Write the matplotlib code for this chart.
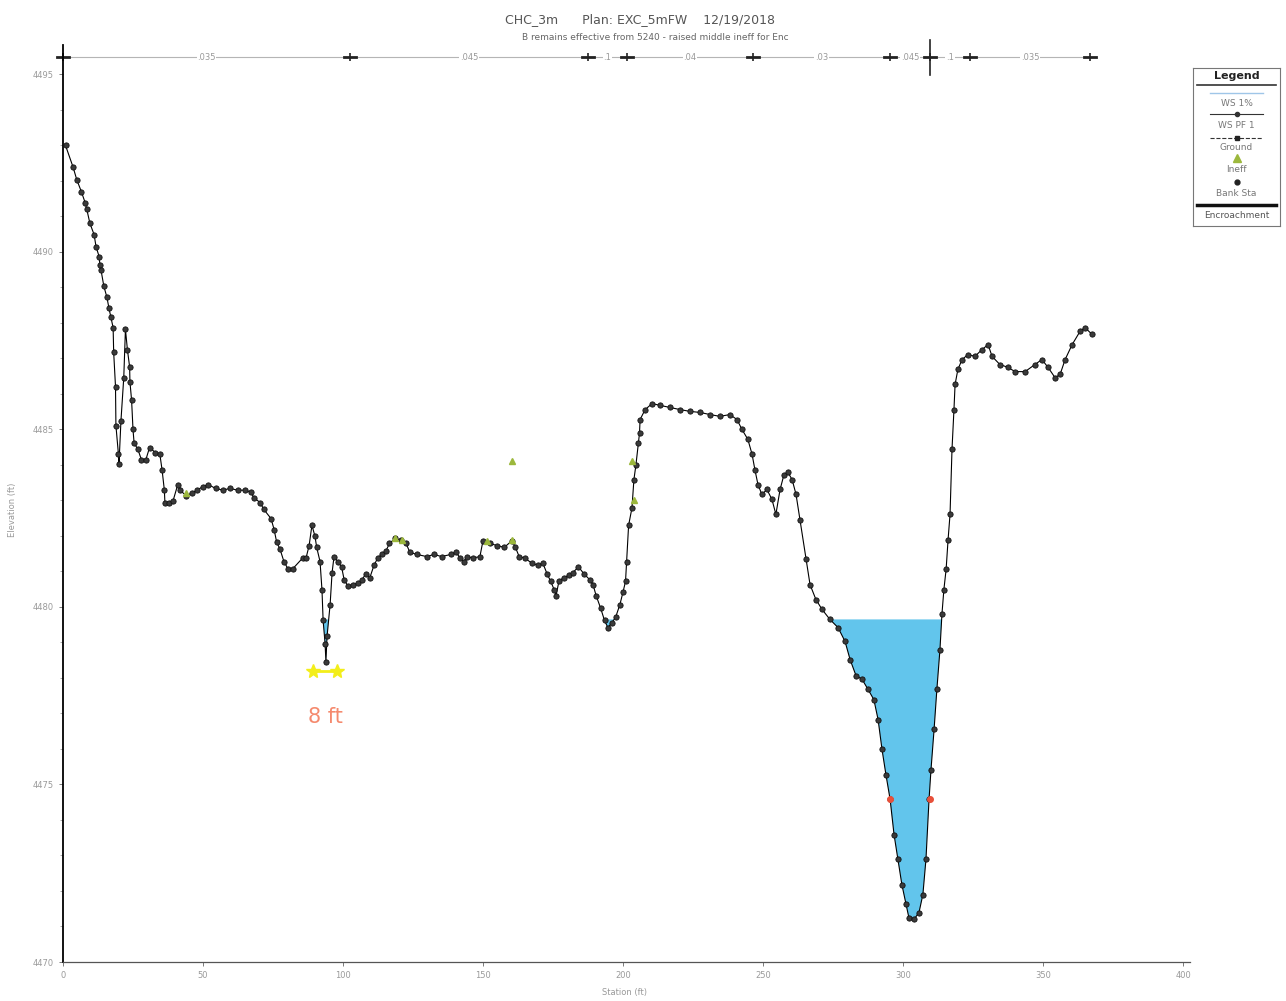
import numpy as np
import matplotlib
matplotlib.use("Agg")
import matplotlib.pyplot as plt

# ---------------- data ----------------
title_main = "CHC_3m      Plan: EXC_5mFW    12/19/2018"
title_sub = "B remains effective from 5240 - raised middle ineff for Enc"

ground_sta = [0.9, 3.6, 4.9, 6.6, 7.9, 8.5, 9.6, 11.1, 11.8, 12.9, 13.2, 13.6, 14.6, 15.7, 16.4, 17.1,
              17.9, 18.1, 18.75, 18.9, 19.8, 20.0, 20.7, 21.7, 22.3, 23.0, 23.8, 23.9, 24.5, 25.0, 25.4,
              26.7, 28.0, 29.6, 30.9, 33.0, 34.6, 35.4, 36.2, 36.4, 37.9, 39.3, 41.0, 41.8, 43.9, 45.9,
              47.9, 49.9, 51.8, 54.5, 57.1, 59.6, 62.4, 65.0, 67.0, 68.2, 70.4, 71.7, 74.3, 75.4, 76.3,
              77.5, 78.9, 80.3, 82.1, 85.6, 86.8, 87.9, 88.9, 90.0, 90.6, 91.8, 92.5, 92.9, 93.6, 93.9,
              94.3, 95.4, 96.1, 96.8, 98.1, 99.5, 100.4, 101.8, 103.4, 105.4, 106.8, 108.1, 109.6, 111.1,
              112.4, 113.75, 115.4, 116.6, 118.6, 120.6, 122.5, 123.9, 126.4, 129.9, 132.5, 135.2, 138.5,
              140.4, 141.8, 143.1, 144.3, 146.4, 148.9, 150.0, 152.4, 155.0, 157.6, 160.4, 161.6, 162.9,
              164.9, 167.5, 169.6, 171.4, 172.9, 174.2, 175.5, 176.1, 177.1, 178.8, 180.7, 182.1, 184.1,
              186.1, 188.1, 189.3, 190.4, 192.0, 193.4, 194.6, 196.1, 197.4, 198.9, 200.0, 200.9, 201.3,
              202.0, 203.2, 203.9, 204.6, 205.5, 205.9, 206.1, 207.9, 210.4, 213.2, 216.8, 220.4, 223.9,
              227.5, 231.1, 234.6, 238.2, 240.7, 242.5, 244.6, 246.1, 247.1, 248.2, 249.6, 251.4, 253.2,
              254.6, 256.1, 257.5, 258.9, 260.4, 261.8, 263.2, 265.4, 266.8, 268.9, 271.1, 273.9, 276.8,
              279.3, 281.1, 283.2, 285.4, 287.5, 289.6, 291.1, 292.5, 293.9, 295.4, 296.8, 298.2, 299.6,
              301.1, 302.1, 303.9, 305.7, 307.1, 308.2, 309.3, 310.0, 311.1, 312.1, 313.2, 313.9, 314.6,
              315.4, 316.1, 316.8, 317.5, 318.2, 318.6, 319.6, 321.1, 323.2, 325.7, 328.2, 330.4, 331.8,
              334.6, 337.5, 340.0, 343.6, 347.1, 349.6, 351.8, 354.3, 356.1, 357.9, 360.4, 363.2, 365.0,
              367.5]
ground_elev = [4493.00, 4492.39, 4492.04, 4491.69, 4491.39, 4491.20, 4490.81, 4490.49, 4490.15, 4489.87,
               4489.62, 4489.48, 4489.03, 4488.72, 4488.42, 4488.17, 4487.87, 4487.17, 4486.21, 4485.11,
               4484.30, 4484.04, 4485.25, 4486.46, 4487.82, 4487.25, 4486.76, 4486.35, 4485.82, 4485.00,
               4484.61, 4484.45, 4484.15, 4484.15, 4484.49, 4484.35, 4484.30, 4483.85, 4483.29, 4482.94,
               4482.94, 4482.99, 4483.45, 4483.29, 4483.14, 4483.20, 4483.29, 4483.39, 4483.45, 4483.34,
               4483.29, 4483.34, 4483.29, 4483.29, 4483.24, 4483.08, 4482.94, 4482.75, 4482.49, 4482.18,
               4481.83, 4481.63, 4481.28, 4481.08, 4481.08, 4481.38, 4481.38, 4481.73, 4482.30, 4481.99,
               4481.68, 4481.28, 4480.47, 4479.62, 4478.97, 4478.46, 4479.17, 4480.07, 4480.97, 4481.42,
               4481.28, 4481.13, 4480.77, 4480.58, 4480.63, 4480.67, 4480.77, 4480.93, 4480.83, 4481.18,
               4481.38, 4481.48, 4481.59, 4481.79, 4481.93, 4481.88, 4481.79, 4481.54, 4481.48, 4481.42,
               4481.48, 4481.42, 4481.48, 4481.54, 4481.38, 4481.28, 4481.42, 4481.38, 4481.42, 4481.87,
               4481.79, 4481.73, 4481.68, 4481.87, 4481.68, 4481.42, 4481.38, 4481.23, 4481.18, 4481.23,
               4480.93, 4480.72, 4480.47, 4480.32, 4480.72, 4480.83, 4480.89, 4480.97, 4481.13, 4480.93,
               4480.77, 4480.63, 4480.32, 4479.97, 4479.62, 4479.42, 4479.56, 4479.72, 4480.07, 4480.42,
               4480.72, 4481.28, 4482.30, 4482.79, 4483.59, 4483.99, 4484.61, 4484.90, 4485.28, 4485.56,
               4485.73, 4485.68, 4485.62, 4485.56, 4485.51, 4485.48, 4485.42, 4485.37, 4485.42, 4485.28,
               4485.00, 4484.72, 4484.30, 4483.87, 4483.45, 4483.17, 4483.31, 4483.03, 4482.61, 4483.31,
               4483.73, 4483.79, 4483.59, 4483.17, 4482.46, 4481.34, 4480.63, 4480.21, 4479.93, 4479.65,
               4479.42, 4479.03, 4478.52, 4478.07, 4477.96, 4477.68, 4477.39, 4476.83, 4475.99, 4475.28,
               4474.58, 4473.59, 4472.89, 4472.18, 4471.62, 4471.25, 4471.20, 4471.39, 4471.90, 4472.89,
               4474.58, 4475.42, 4476.55, 4477.68, 4478.80, 4479.79, 4480.49, 4481.06, 4481.90, 4482.61,
               4484.44, 4485.56, 4486.27, 4486.69, 4486.97, 4487.11, 4487.06, 4487.25, 4487.39, 4487.06,
               4486.83, 4486.75, 4486.63, 4486.63, 4486.83, 4486.97, 4486.75, 4486.46, 4486.55, 4486.97,
               4487.39, 4487.76, 4487.87, 4487.68]

ws_elev = 4479.65

bank_sta = [295.4, 309.6]
bank_elev = [4474.58, 4474.58]

ineff_sta = [44.0, 118.6, 121.0, 151.5, 160.4, 160.4, 203.3, 203.9]
ineff_elev = [4483.2, 4481.95, 4481.9, 4481.85, 4481.9, 4484.1, 4484.1, 4483.0]

enc_sta = [89.3, 97.9]
enc_elev = [4478.2, 4478.2]
note_text = "8 ft"
note_sta, note_elev = 93.6, 4476.9

n_bounds = [0.0, 102.5, 187.5, 201.4, 246.4, 295.4, 309.6, 323.9, 366.8]
n_values = [".035", ".045", ".1", ".04", ".03", ".045", ".1", ".035"]
n_bar_elev = 4495.48

x_ticks = [0, 50, 100, 150, 200, 250, 300, 350, 400]
y_ticks = [4470, 4475, 4480, 4485, 4490, 4495]

legend_labels = ["WS 1%", "WS PF 1", "Ground", "Ineff", "Bank Sta", "Encroachment"]

# ---------------- figure ----------------
W, H = 1286, 1001
fig = plt.figure(figsize=(W / 100, H / 100), dpi=100)
ax = fig.add_axes([63 / W, 1 - 962 / H, (1190 - 63) / W, (962 - 45) / H])
ax.set_xlim(0, 402.5)
ax.set_ylim(4470, 4495.83)

sta = np.array(ground_sta)
elev = np.array(ground_elev)

# water
ax.fill_between(sta, elev, ws_elev, where=elev < ws_elev, interpolate=True,
                color="#62c5ec", linewidth=0, zorder=1)

# ground
ax.plot(sta, elev, color="black", lw=0.8, zorder=3)
ax.plot(sta, elev, linestyle="none", marker="o", ms=3.8, mfc="#3a3a3a", mec="#111111",
        mew=0.6, zorder=4)

# ineffective markers
ax.plot(ineff_sta, ineff_elev, linestyle="none", marker="^", ms=5, color="#9cb83c", zorder=5)

# bank stations
ax.plot(bank_sta, bank_elev, linestyle="none", marker="o", ms=4, color="#e8503a", zorder=6)

# yellow encroachment-like markers
ax.plot(enc_sta, enc_elev, color="#f3ee1a", lw=2, marker="*", ms=10, zorder=6)
ax.text(note_sta, note_elev, note_text, color="#f58a6e", fontsize=15, ha="center", va="center")

# Manning n bar
ax.plot([n_bounds[0], n_bounds[-1]], [n_bar_elev, n_bar_elev], color="#b5b5b5", lw=0.8,
        zorder=2, clip_on=False)
for b in n_bounds:
    ax.plot([b], [n_bar_elev], marker="|", ms=6, color="#222222", mew=1.2, clip_on=False)
    ax.plot([b - 2.2, b + 2.2], [n_bar_elev, n_bar_elev], color="#222222", lw=2.0, clip_on=False)
for i, lab in enumerate(n_values):
    mid = 0.5 * (n_bounds[i] + n_bounds[i + 1])
    ax.text(mid, n_bar_elev, lab, fontsize=6, color="#999999", ha="center", va="center",
            bbox=dict(facecolor="white", edgecolor="none", pad=0.5))
# bank station tall tick on the bar
ax.plot([bank_sta[1], bank_sta[1]], [n_bar_elev - 0.5, n_bar_elev + 0.5], color="#222222",
        lw=1.2, clip_on=False)

# axes styling
for s in ["top", "right"]:
    ax.spines[s].set_visible(False)
ax.spines["left"].set_linewidth(1.3)
ax.spines["bottom"].set_linewidth(0.9)
ax.spines["bottom"].set_color("#555555")
ax.set_xticks(x_ticks)
ax.set_yticks(y_ticks)
ax.set_xticklabels([str(v) for v in x_ticks])
ax.set_yticklabels([str(v) for v in y_ticks])
ax.set_yticks(np.arange(4470, 4496, 1), minor=True)
ax.tick_params(axis="both", labelsize=6, labelcolor="#9a9a9a", color="#666666",
               length=3, width=0.6, direction="out")
ax.tick_params(axis="y", which="minor", length=2, width=0.5, color="#888888")

fig.text(625 / W, 1 - 993 / H, "Station (ft)", fontsize=6, color="#999999", ha="center", va="center")
fig.text(12 / W, 1 - 510 / H, "Elevation (ft)", fontsize=6, color="#999999", ha="center",
         va="center", rotation=90)

fig.text(640 / W, 1 - 20 / H, title_main, fontsize=9, color="#555555", ha="center", va="center")
fig.text(655 / W, 1 - 37 / H, title_sub, fontsize=6.5, color="#666666", ha="center", va="center")

# legend (HEC-RAS style: symbol above label)
lax = fig.add_axes([1193 / W, 1 - 226 / H, 87 / W, 158 / H])
lax.set_xlim(0, 1)
lax.set_ylim(226, 68)
lax.set_xticks([])
lax.set_yticks([])
for s in lax.spines.values():
    s.set_color("#777777")
    s.set_linewidth(0.8)
lax.text(0.5, 76, "Legend", fontsize=8, fontweight="bold", ha="center", va="center", color="#222222")
lax.plot([0.05, 0.95], [85, 85], color="#333333", lw=1.2)
lax.plot([0.2, 0.8], [93, 93], color="#9fc6e8", lw=1.0)
lax.text(0.5, 103, legend_labels[0], fontsize=6.5, ha="center", va="center", color="#777777")
lax.plot([0.2, 0.8], [114, 114], color="#333333", lw=0.8)
lax.plot([0.5], [114], marker="o", ms=3, color="#333333")
lax.text(0.5, 126, legend_labels[1], fontsize=6.5, ha="center", va="center", color="#777777")
lax.plot([0.2, 0.8], [138, 138], color="#333333", lw=0.8, ls="--")
lax.plot([0.5], [138], marker="s", ms=3.5, color="#222222")
lax.text(0.5, 147, legend_labels[2], fontsize=6.5, ha="center", va="center", color="#777777")
lax.plot([0.5], [158], marker="^", ms=6, color="#9cb83c")
lax.text(0.5, 169, legend_labels[3], fontsize=6.5, ha="center", va="center", color="#777777")
lax.plot([0.5], [182], marker="o", ms=3.5, color="#222222")
lax.text(0.5, 193, legend_labels[4], fontsize=6.5, ha="center", va="center", color="#777777")
lax.plot([0.05, 0.95], [205, 205], color="#111111", lw=2.5)
lax.text(0.5, 215, legend_labels[5], fontsize=6.5, ha="center", va="center", color="#555555")

fig.savefig("out.png", dpi=100)
